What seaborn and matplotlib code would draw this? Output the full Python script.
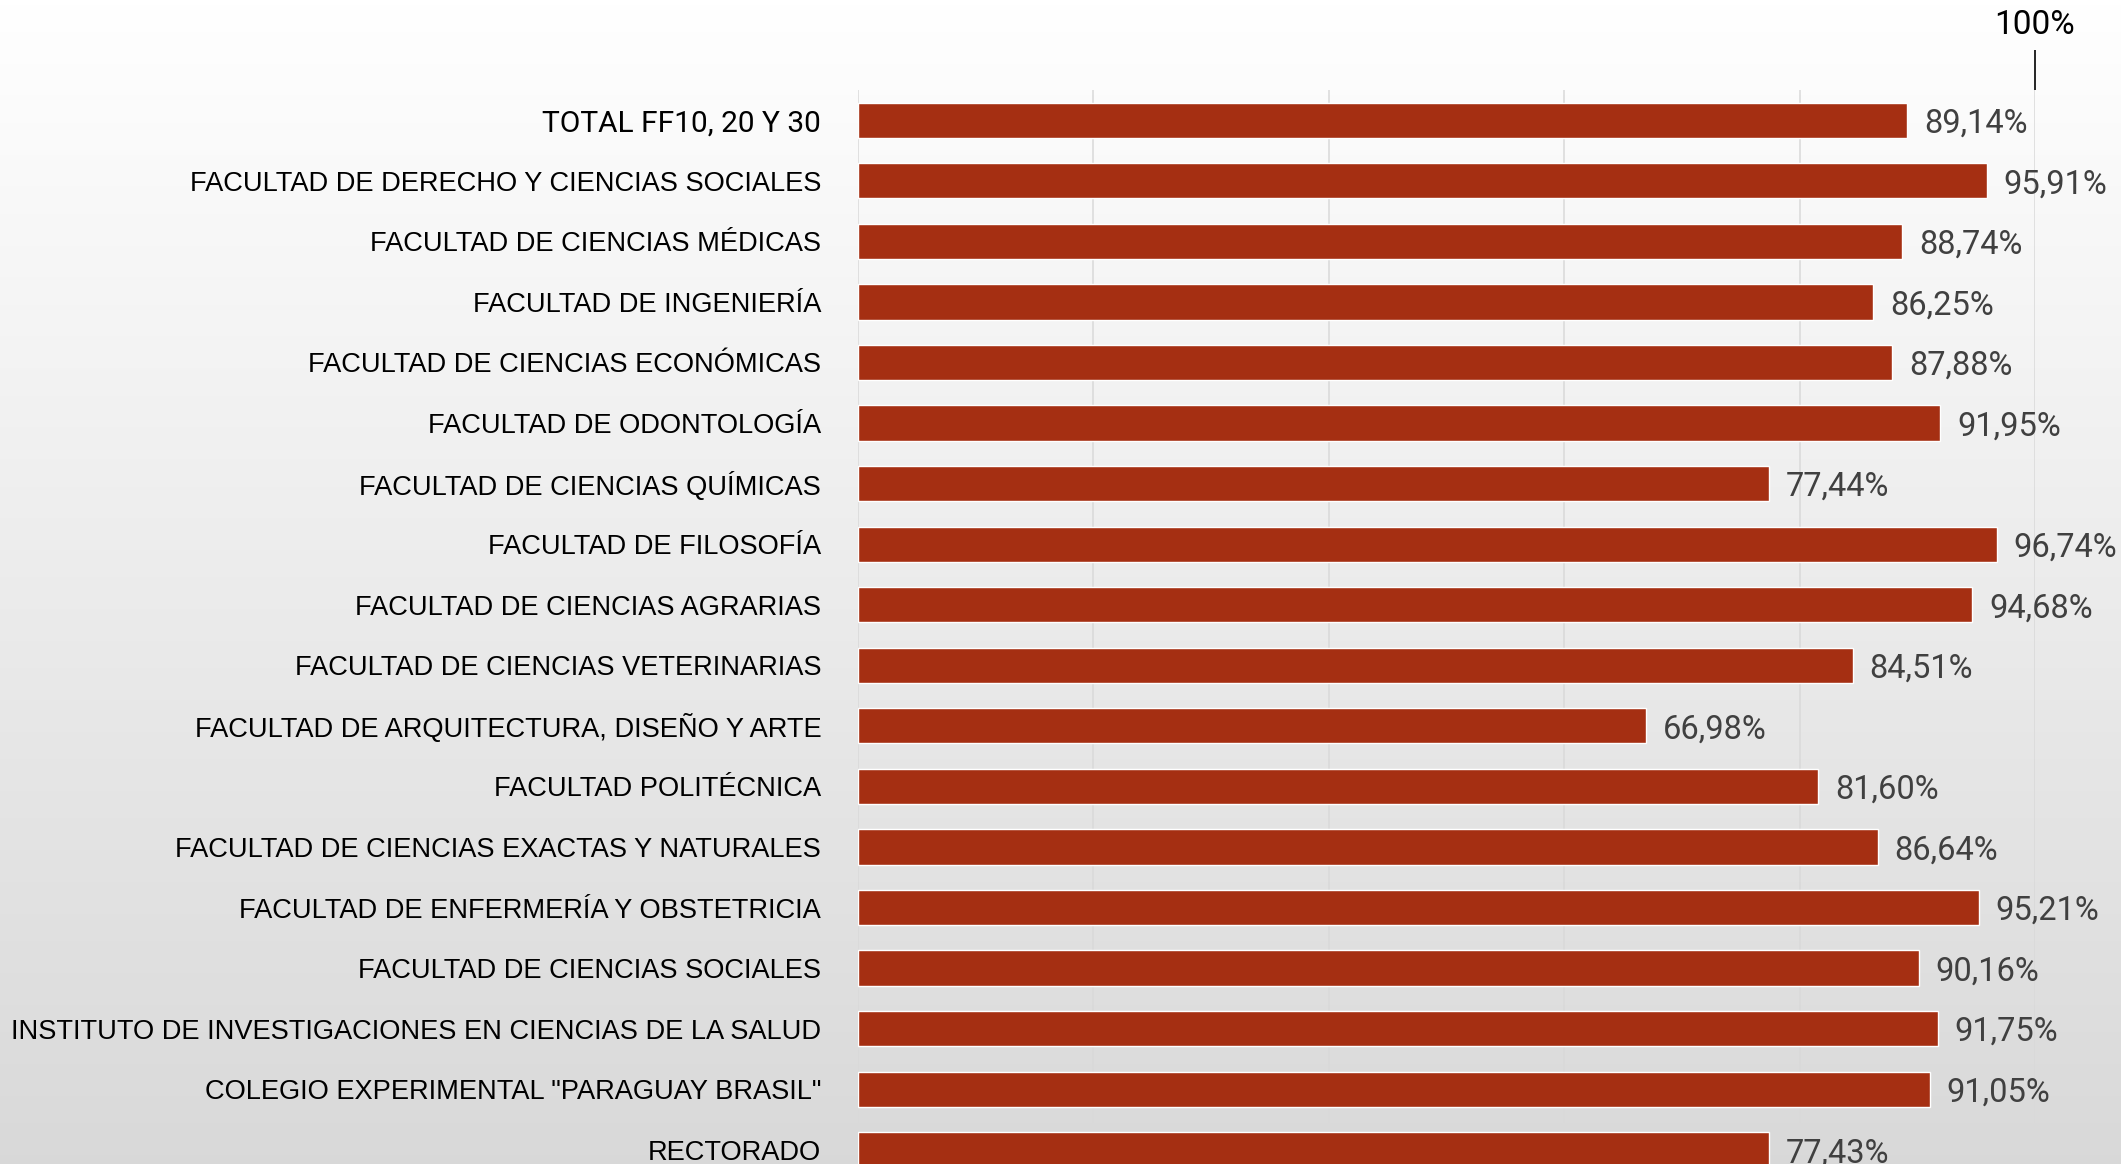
import numpy as np
import pandas as pd
import matplotlib
matplotlib.use("Agg")
import matplotlib.pyplot as plt
from matplotlib import font_manager
import seaborn as sns

# ========== DATA ==========
categories = [
    "TOTAL FF10, 20 Y 30",
    "FACULTAD DE DERECHO Y CIENCIAS SOCIALES",
    "FACULTAD DE CIENCIAS MÉDICAS",
    "FACULTAD DE INGENIERÍA",
    "FACULTAD DE CIENCIAS ECONÓMICAS",
    "FACULTAD DE ODONTOLOGÍA",
    "FACULTAD DE CIENCIAS QUÍMICAS",
    "FACULTAD DE FILOSOFÍA",
    "FACULTAD DE CIENCIAS AGRARIAS",
    "FACULTAD DE CIENCIAS VETERINARIAS",
    "FACULTAD DE ARQUITECTURA, DISEÑO Y ARTE",
    "FACULTAD POLITÉCNICA",
    "FACULTAD DE CIENCIAS EXACTAS Y NATURALES",
    "FACULTAD DE ENFERMERÍA Y OBSTETRICIA",
    "FACULTAD DE CIENCIAS SOCIALES",
    "INSTITUTO DE INVESTIGACIONES EN CIENCIAS DE LA SALUD",
    'COLEGIO EXPERIMENTAL "PARAGUAY BRASIL"',
    "RECTORADO",
]
values = [89.14, 95.91, 88.74, 86.25, 87.88, 91.95, 77.44, 96.74, 94.68,
          84.51, 66.98, 81.60, 86.64, 95.21, 90.16, 91.75, 91.05, 77.43]
grid_ticks = [0, 20, 40, 60, 80, 100]
top_tick = [100]
top_tick_label = ["100%"]

df = pd.DataFrame({"categoria": categories, "valor": values})

bar_color = "#A52F12"
installed = {f.name for f in font_manager.fontManager.ttflist}
label_font = "Liberation Sans Narrow" if "Liberation Sans Narrow" in installed else "Liberation Sans"
value_font = "Roboto"

sns.set_theme(style="white")
plt.rcParams["font.family"] = ["DejaVu Sans"]

W, H, DPI = 2121, 1164, 100
fig = plt.figure(figsize=(W / DPI, H / DPI), dpi=DPI)

# background gradient (white at top -> light gray at bottom)
bg = fig.add_axes([0, 0, 1, 1], zorder=-10)
grad = np.linspace(1.0, 0.85, 256).reshape(-1, 1)
bg.imshow(np.dstack([grad, grad, grad]), aspect="auto", extent=[0, 1, 0, 1])
bg.axis("off")

# main axes (bottom extends slightly below the figure, last bar is cut)
ax_left, ax_right = 858 / W, 2035 / W
ax_top_px, ax_bot_px = 90, 1180
ax = fig.add_axes([ax_left, 1 - ax_bot_px / H, ax_right - ax_left, (ax_bot_px - ax_top_px) / H])
ax.set_facecolor("none")

sns.barplot(data=df, x="valor", y="categoria", orient="h", color=bar_color,
            saturation=1, width=0.58, ax=ax, zorder=3)

ax.set_xlim(0, 100)
ax.set_ylim(len(categories) - 0.5, -0.5)
ax.set_xticks(grid_ticks)
ax.grid(axis="x", color="#d9d9d9", linewidth=1.1, zorder=0)
ax.grid(axis="y", visible=False)
ax.set_xlabel("")
ax.set_ylabel("")
for s in ax.spines.values():
    s.set_visible(False)
ax.tick_params(axis="x", bottom=False, labelbottom=False)
ax.tick_params(axis="y", left=False, length=0, pad=26.5)
ylabels = ax.get_yticklabels()
for i, lab in enumerate(ylabels):
    lab.set_color("black")
    if i == 0:
        lab.set_fontfamily([value_font, "DejaVu Sans"])
        lab.set_fontsize(21.5)
    else:
        lab.set_fontfamily([label_font, "DejaVu Sans"])
        lab.set_fontsize(19.6)

labels = [f"{v:.2f}".replace(".", ",") + "%" for v in values]
texts = ax.bar_label(ax.containers[0], labels=labels, padding=12, fontsize=23.5,
                     color="#404040", family=[value_font, "DejaVu Sans"])
for t in texts:
    t.set_va("center_baseline")

# top marker at 100%
sec = ax.secondary_xaxis("top")
sec.set_xticks(top_tick, labels=top_tick_label)
sec.tick_params(axis="x", length=29, width=1.2, color="black", pad=6,
                labelsize=24, labelcolor="black")
for lab in sec.get_xticklabels():
    lab.set_fontfamily([value_font, "DejaVu Sans"])
sec.spines["top"].set_visible(False)

fig.savefig("out.png", dpi=DPI)
plt.close(fig)
